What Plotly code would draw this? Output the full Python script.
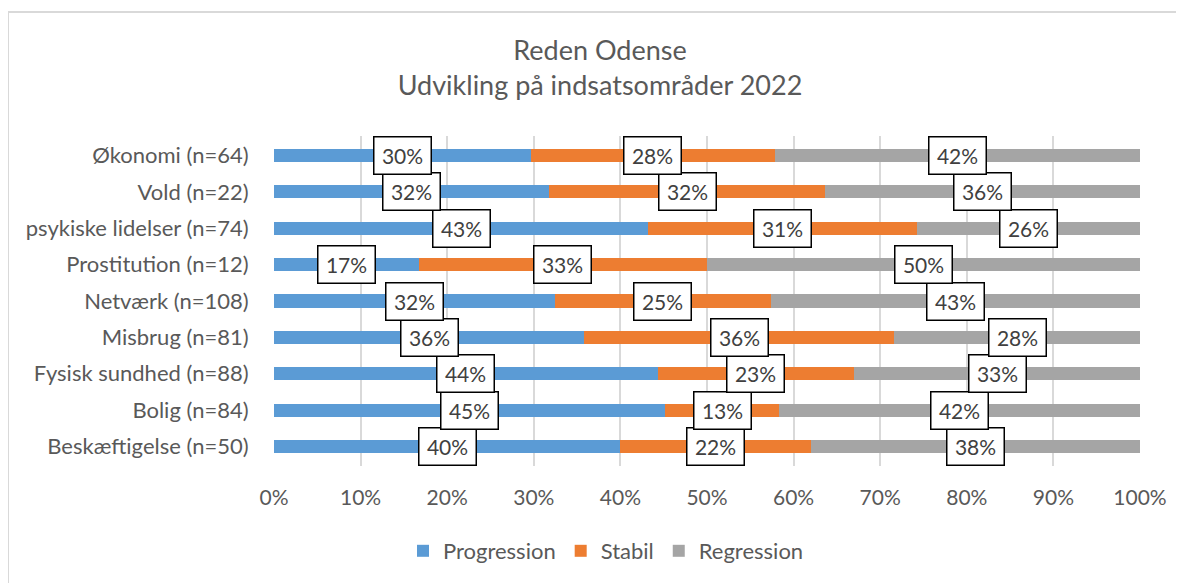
import plotly.graph_objects as go

categories = [
    "Beskæftigelse (n=50)",
    "Bolig (n=84)",
    "Fysisk sundhed (n=88)",
    "Misbrug (n=81)",
    "Netværk (n=108)",
    "Prostitution (n=12)",
    "psykiske lidelser (n=74)",
    "Vold (n=22)",
    "Økonomi (n=64)",
]
progression = [40.0, 45.2, 44.3, 35.8, 32.4, 16.7, 43.2, 31.8, 29.7]
stabil = [22.0, 13.1, 22.7, 35.8, 25.0, 33.3, 31.1, 31.8, 28.1]
regression = [38.0, 41.7, 33.0, 28.4, 42.6, 50.0, 25.7, 36.4, 42.2]
series_names = ["Progression", "Stabil", "Regression"]
colors = ["#5B9BD5", "#ED7D31", "#A5A5A5"]
tick_vals = [0, 10, 20, 30, 40, 50, 60, 70, 80, 90, 100]
tick_text = [f"{v}%" for v in tick_vals]

FONT = "Lato"
OFF = 8  # page body margin
W, H = 1184 - OFF, 583 - OFF
L, T = 274 - OFF, 136 - OFF
PW, PH = 866, 330
R, B = W - L - PW, H - T - PH

fig = go.Figure()
series = [progression, stabil, regression]
for name, vals, col in zip(series_names, series, colors):
    fig.add_trace(go.Bar(
        y=categories, x=vals, name=name, orientation="h",
        marker=dict(color=col, line=dict(width=0)),
        hoverinfo="x+y+name",
    ))

annotations = []
for i, cat in enumerate(categories):
    start = 0.0
    for vals in series:
        v = vals[i]
        annotations.append(dict(
            x=start + v / 2, y=cat, xref="x", yref="y",
            text=f"{round(v):.0f}%", showarrow=False,
            font=dict(family=FONT, size=21, color="#404040"),
            bgcolor="white", bordercolor="black", borderwidth=1.5,
            borderpad=1, width=54, height=34,
        ))
        start += v

def px2paper_x(px):
    return (px - OFF - L) / PW

def px2paper_y(py):
    return 1 - (py - OFF - T) / PH

fig.add_shape(type="rect", xref="paper", yref="paper",
              x0=px2paper_x(8), x1=px2paper_x(1210),
              y0=px2paper_y(620), y1=px2paper_y(12),
              line=dict(color="#D9D9D9", width=2), fillcolor="rgba(0,0,0,0)",
              layer="below")

fig.update_layout(
    width=W, height=H,
    barmode="stack", bargap=0.64,
    margin=dict(l=L, r=R, t=T, b=B, autoexpand=False),
    paper_bgcolor="white", plot_bgcolor="white",
    font=dict(family=FONT, size=22, color="#595959"),
    title=dict(
        text="Reden Odense<br>Udvikling på indsatsområder 2022",
        x=(600 - OFF) / W, xanchor="center", xref="container",
        y=1 - (60 - OFF) / H, yanchor="top", yref="container",
        font=dict(family=FONT, size=27, color="#595959"),
    ),
    xaxis=dict(range=[0, 100], tickvals=tick_vals, ticktext=tick_text,
               showgrid=True, gridcolor="#D9D9D9", gridwidth=1.5,
               zeroline=False, showline=False, ticks="outside", ticklen=13,
               tickcolor="rgba(0,0,0,0)",
               tickfont=dict(size=21, color="#595959"), fixedrange=True),
    yaxis=dict(showgrid=False, zeroline=False, showline=False, ticks="outside",
               ticklen=20, tickcolor="rgba(0,0,0,0)",
               tickfont=dict(size=22, color="#595959"), fixedrange=True),
    legend=dict(orientation="h", x=px2paper_x(606), xanchor="center",
                y=px2paper_y(551), yanchor="middle",
                font=dict(size=22, color="#595959"), traceorder="normal",
                itemwidth=30),
    annotations=annotations,
    showlegend=True,
)

fig.write_html("out.html")
